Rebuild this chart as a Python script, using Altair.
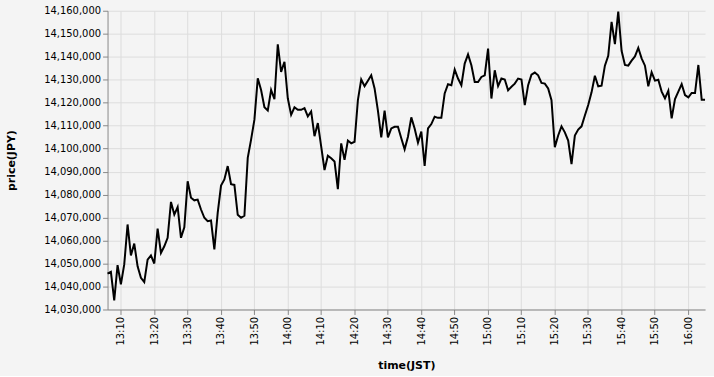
import altair as alt
import pandas as pd

start_time = "2024-01-01 13:06:04"
tick_times = ["13:10", "13:20", "13:30", "13:40", "13:50", "14:00", "14:10", "14:20", "14:30",
              "14:40", "14:50", "15:00", "15:10", "15:20", "15:30", "15:40", "15:50", "16:00"]
prices = [
    14045650, 14046400, 14034000, 14049300, 14040900, 14049600, 14067000, 14053500, 14058700, 14048800,
    14043800, 14041900, 14051700, 14053500, 14050000, 14065200, 14054600, 14057500, 14061200, 14076800,
    14071300, 14074600, 14061200, 14065800, 14085800, 14078600, 14077500, 14077800, 14073500, 14069900,
    14068400, 14068700, 14056100, 14072000, 14083900, 14086600, 14092400, 14084500, 14084200, 14071200,
    14069900, 14070800, 14096000, 14103900, 14112600, 14130600, 14125500, 14118000, 14116600, 14125500,
    14121500, 14145400, 14133400, 14137800, 14121900, 14114700, 14118000, 14116900, 14116900, 14117600,
    14114000, 14116200, 14105400, 14111100, 14101000, 14090700, 14096900, 14095800, 14094400, 14082400,
    14102300, 14095100, 14103500, 14102300, 14103000, 14121100, 14130100, 14127200, 14129500, 14131900,
    14126200, 14116500, 14104900, 14116500, 14104900, 14108800, 14109500, 14109500, 14104500, 14099700,
    14105200, 14113600, 14108800, 14102600, 14107400, 14092500, 14108800, 14110700, 14113900, 14113400,
    14113400, 14124000, 14128000, 14127600, 14134400, 14130500, 14127600, 14137000, 14141000, 14136300,
    14129000, 14129000, 14131200, 14131900, 14143500, 14121800, 14134100, 14127200, 14130500, 14130100,
    14125400, 14126900, 14128300, 14130500, 14130100, 14118900, 14127600, 14132200, 14133100, 14131900,
    14128600, 14128300, 14126200, 14121100, 14100600, 14105700, 14109700, 14107100, 14103500, 14093300,
    14105700, 14108300, 14109700, 14114400, 14119000, 14124500, 14131700, 14127100, 14127400, 14136100,
    14140400, 14155200, 14145500, 14159600, 14142600, 14136400, 14136100, 14138300, 14140100, 14143800,
    14139300, 14136100, 14127100, 14133200, 14129600, 14130000, 14124800, 14121900, 14125200, 14113200,
    14121600, 14124800, 14128100, 14123300, 14122300, 14124200, 14124200, 14136400, 14121300, 14121300,
]

times = pd.date_range(start=start_time, periods=len(prices), freq="1min")
df = pd.DataFrame({"time": times.strftime("%Y-%m-%dT%H:%M:%S"), "price": prices})
tick_values = [alt.DateTime(year=2024, month=1, date=1, hours=int(t[:2]), minutes=int(t[3:]))
               for t in tick_times]

chart = (
    alt.Chart(df)
    .mark_line(color="black", strokeWidth=2)
    .encode(
        x=alt.X(
            "time:T",
            title="time(JST)",
            scale=alt.Scale(nice=False),
            axis=alt.Axis(format="%H:%M", labelAngle=270, values=tick_values, titlePadding=14),
        ),
        y=alt.Y(
            "price:Q",
            title="price(JPY)",
            scale=alt.Scale(domain=[14030000, 14160000], zero=False),
            axis=alt.Axis(format=",d", tickCount=13, titlePadding=27),
        ),
    )
    .properties(width=600, height=300, background="#f4f4f4")
    .configure(font="DejaVu Sans")
    .configure_view(stroke=None)
)

chart.save("out.html", embed_options={"renderer": "svg", "actions": False})
